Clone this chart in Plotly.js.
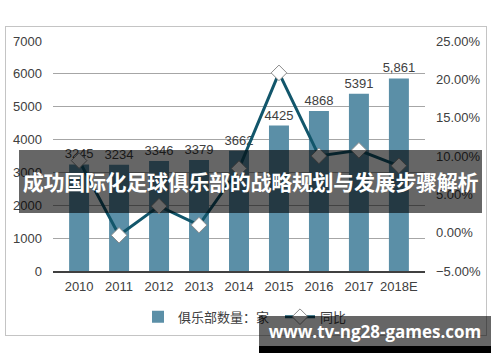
<!DOCTYPE html>
<html>
<head>
<meta charset="utf-8">
<script src="https://cdn.plot.ly/plotly-3.0.1.min.js"></script>
<style>
  html, body { margin:0; padding:0; background:#fff; }
  #wrap { position:relative; width:500px; height:362px; overflow:hidden; }
  #chart { position:absolute; left:0; top:0; width:500px; height:362px; }
  #frame { position:absolute; left:5px; top:26px; width:482px; height:310px; border:1.5px solid #c4c4c4; box-sizing:border-box; pointer-events:none; }
  #titleband { position:absolute; left:19px; top:150px; width:463px; height:63px; background:rgba(0,0,0,0.6);
    color:#fff; font-family:"Noto Sans CJK SC", sans-serif; font-weight:bold; font-size:21px; line-height:63px; text-align:center; white-space:nowrap; letter-spacing:-0.3px; }
  #wm { position:absolute; left:259px; top:316px; width:232px; height:37px; background:rgba(0,0,0,0.6); }
  #wmblack { position:absolute; left:0; top:30px; width:232px; height:7px; background:#000; }
  #wmtext { position:absolute; left:0; top:0; width:232px; height:32px; line-height:32px; text-align:center; color:#fff;
    font-family:"Open Sans","DejaVu Sans",sans-serif; font-weight:bold; font-size:17px; white-space:nowrap; }
</style>
</head>
<body>
<div id="wrap">
  <div id="chart"></div>
  <div id="frame"></div>
  <div id="titleband">成功国际化足球俱乐部的战略规划与发展步骤解析</div>
  <div id="wm"><div id="wmblack"></div><div id="wmtext">www.tv-ng28-games.com</div></div>
</div>
<script>
const years = ["2010","2011","2012","2013","2014","2015","2016","2017","2018E"];
const clubCounts = [3245, 3234, 3346, 3379, 3662, 4425, 4868, 5391, 5861];
const clubLabels = ["3245","3234","3346","3379","3662","4425","4868","5391","5,861"];
const yoyPct = [9.4, -0.34, 3.46, 0.99, 8.37, 20.84, 10.01, 10.74, 8.72];
const barName = "俱乐部数量：家";
const lineName = "同比";

const font = '"Liberation Sans", Arial, "Noto Sans CJK SC", sans-serif';

const traces = [
  {
    type: "bar", x: years, y: clubCounts, name: barName,
    text: clubLabels, textposition: "outside", cliponaxis: false, constraintext: "none",
    textfont: {family: font, size: 13, color: "#404040"},
    marker: {color: "#5b8fa7"}, hoverinfo: "x+y"
  },
  {
    type: "scatter", mode: "lines+markers", x: years, y: yoyPct, name: lineName, yaxis: "y2",
    line: {color: "#12566b", width: 3},
    marker: {symbol: "diamond", size: 12, color: "#ffffff", line: {color: "#8a8a8a", width: 1}},
    cliponaxis: false
  }
];

const layout = {
  width: 500, height: 362,
  margin: {l: 53, r: 75, t: 41, b: 91, pad: 0},
  paper_bgcolor: "#ffffff", plot_bgcolor: "#ffffff",
  font: {family: font, size: 13, color: "#595959"},
  bargap: 0.5,
  showlegend: true,
  legend: {orientation: "h", xref: "container", yref: "container", x: 0.276, xanchor: "left", y: 0.125, yanchor: "middle",
           font: {family: font, size: 13, color: "#404040"}, itemwidth: 30, entrywidth: 97, tracegroupgap: 0},
  xaxis: {type: "category", showgrid: false, showline: true, linecolor: "#404040", linewidth: 1.5,
          ticks: "", tickfont: {size: 13, color: "#404040"}, ticklabelstandoff: 3},
  yaxis: {range: [0, 7000], dtick: 1000, showgrid: true, gridcolor: "#a6a6a6", gridwidth: 1,
          zeroline: false, ticks: "", tickfont: {size: 13, color: "#404040"}, ticklabelstandoff: 10, tickformat: "d"},
  yaxis2: {overlaying: "y", side: "right", range: [-5, 25], dtick: 5, tickformat: ".2f", ticksuffix: "%",
           showgrid: false, zeroline: false, ticks: "", tickfont: {size: 13, color: "#404040"}, ticklabelstandoff: 10}
};

Plotly.newPlot("chart", traces, layout, {displayModeBar: false, staticPlot: true});
</script>
</body>
</html>
